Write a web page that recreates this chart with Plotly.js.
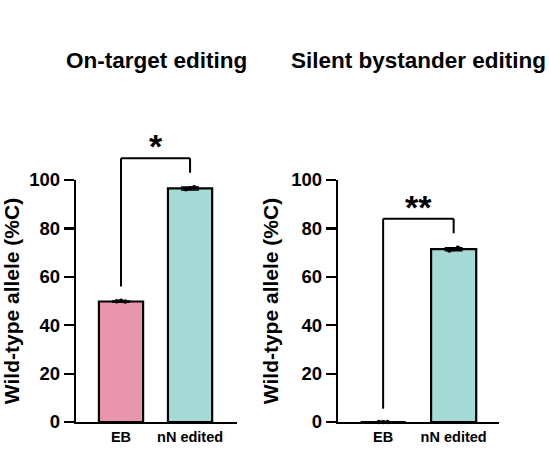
<!DOCTYPE html>
<html><head><meta charset="utf-8">
<script src="https://cdn.plot.ly/plotly-3.0.1.min.js"></script>
<style>html,body{margin:0;padding:0;background:#fff}</style>
</head><body>
<div id="chart" style="width:549px;height:456px"></div>
<script>
// ---- data ----
const categories = ["EB", "nN edited"];
const panelTitles = ["On-target editing", "Silent bystander editing"];
const yTitle = "Wild-type allele (%C)";
const yTicks = [0, 20, 40, 60, 80, 100];

const onTargetMean = [49.8, 96.5];
const onTargetSD = [0.2, 0.6];
const onTargetPointsEB = [49.9, 50.1, 49.8];
const onTargetPointsNN = [96.2, 96.6, 97.0];

const bystanderMean = [0, 71.4];
const bystanderSD = [0, 0.6];
const bystanderPointsEB = [0, 0, 0];
const bystanderPointsNN = [70.9, 71.4, 72.0];

const onTargetBracket = {left: 56, right: 103, top: 109, label: "*"};
const bystanderBracket = {left: 5.5, right: 78, top: 84, label: "**"};

const barColors = ["#e895ae", "#a6dad6"];
// ---- end data ----

const FONT = "Arial, 'Liberation Sans', sans-serif";
const jitter = [-0.06, 0, 0.06];
const catIndex = categories.map((c, i) => i);

function barTrace(mean, sd, xa, ya) {
  return {
    type: "bar", x: catIndex, y: mean, xaxis: xa, yaxis: ya,
    width: 0.64,
    marker: {color: barColors, line: {color: "#000", width: 2.2}},
    error_y: {type: "data", array: sd, visible: true, color: "#000", thickness: 1.5, width: 9},
    cliponaxis: false, showlegend: false, hoverinfo: "skip"
  };
}
function dots(vals, catIdx, xa, ya) {
  return {
    type: "scatter", mode: "markers", xaxis: xa, yaxis: ya,
    x: vals.map((v, i) => catIdx + jitter[i]), y: vals,
    marker: {color: "#000", size: 4.5},
    cliponaxis: false, hoverinfo: "skip", showlegend: false
  };
}

const traces = [
  barTrace(onTargetMean, onTargetSD, "x", "y"),
  barTrace(bystanderMean, bystanderSD, "x2", "y2"),
  dots(onTargetPointsEB, 0, "x", "y"),
  dots(onTargetPointsNN, 1, "x", "y"),
  dots(bystanderPointsEB, 0, "x2", "y2"),
  dots(bystanderPointsNN, 1, "x2", "y2"),
];

const yMax = 100;
function bracketShapes(b, xa) {
  const base = {type: "line", xref: xa, yref: "paper", line: {color: "#000", width: 2}};
  return [
    Object.assign({}, base, {x0: 0, x1: 0, y0: b.left / yMax, y1: b.top / yMax}),
    Object.assign({}, base, {x0: 0, x1: 1, y0: b.top / yMax, y1: b.top / yMax}),
    Object.assign({}, base, {x0: 1, x1: 1, y0: b.right / yMax, y1: b.top / yMax}),
  ];
}

const xCommon = {
  type: "linear", range: [-0.652, 1.68], tickmode: "array", tickvals: catIndex, ticktext: categories,
  showline: true, linecolor: "#000", linewidth: 2.2, ticks: "", zeroline: false, showgrid: false,
  tickfont: {family: FONT, size: 14.5, color: "#000", weight: "bold"}, fixedrange: true
};
const yCommon = {
  range: [0, 100], tickvals: yTicks, showline: true, linecolor: "#000", linewidth: 2.2,
  ticks: "outside", ticklen: 10, tickwidth: 2.2, tickcolor: "#000", showgrid: false, zeroline: false,
  tickfont: {family: FONT, size: 18.5, color: "#000", weight: "bold"},
  title: {text: yTitle, font: {family: FONT, size: 21, color: "#000", weight: "bold"}, standoff: 7},
  domain: [0, 1], fixedrange: true
};

const titleY = (421.7 - 61) / 241.7;
const titleFont = {family: FONT, size: 22.5, color: "#000", weight: "bold"};
const starFont = {family: FONT, size: 34, color: "#000", weight: "bold"};

const layout = {
  width: 549, height: 456,
  margin: {l: 0, r: 0, t: 180, b: 34.3},
  paper_bgcolor: "#fff", plot_bgcolor: "#fff",
  showlegend: false,
  xaxis: Object.assign({}, xCommon, {domain: [76 / 549, 237 / 549], anchor: "y"}),
  yaxis: Object.assign({}, yCommon, {anchor: "x"}),
  xaxis2: Object.assign({}, xCommon, {domain: [338 / 549, 499 / 549], anchor: "y2", range: [-0.64, 1.643]}),
  yaxis2: Object.assign({}, yCommon, {anchor: "x2"}),
  shapes: [].concat(bracketShapes(onTargetBracket, "x"), bracketShapes(bystanderBracket, "x2")),
  annotations: [
    {xref: "paper", yref: "paper", x: 156 / 549, y: titleY, text: panelTitles[0], showarrow: false,
     xanchor: "center", yanchor: "middle", font: titleFont},
    {xref: "paper", yref: "paper", x: 418 / 549, y: titleY, text: panelTitles[1], showarrow: false,
     xanchor: "center", yanchor: "middle", font: titleFont},
    {xref: "x", yref: "paper", x: 0.5, y: onTargetBracket.top / yMax, text: onTargetBracket.label,
     showarrow: false, yanchor: "bottom", yshift: -9, font: starFont},
    {xref: "x2", yref: "paper", x: 0.5, y: bystanderBracket.top / yMax, text: bystanderBracket.label,
     showarrow: false, yanchor: "bottom", yshift: -9, font: starFont},
  ]
};

Plotly.newPlot("chart", traces, layout, {displayModeBar: false, staticPlot: true});
</script>
</body></html>
